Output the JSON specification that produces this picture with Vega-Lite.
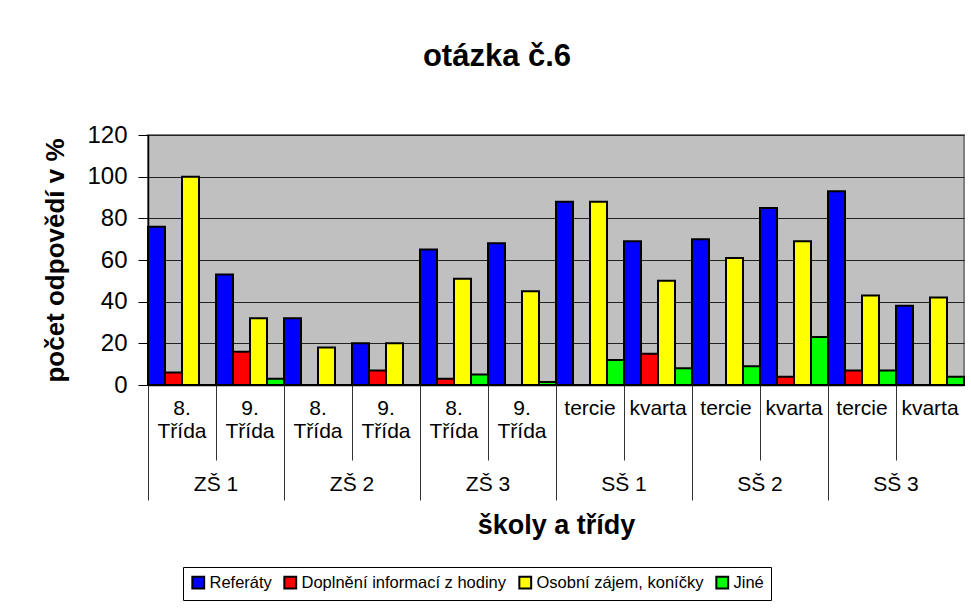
{
  "$schema": "https://vega.github.io/schema/vega-lite/v6.json",
  "width": 816,
  "height": 250,
  "autosize": {"type": "none"},
  "padding": {"left": 148, "top": 135, "right": 7, "bottom": 224},
  "background": "white",
  "title": {
    "text": "otázka č.6",
    "anchor": "middle",
    "frame": "group",
    "dx": -59,
    "offset": 50,
    "font": "Liberation Sans",
    "fontSize": 31,
    "fontWeight": "bold",
    "color": "black"
  },
  "config": {
    "font": "Liberation Sans",
    "view": {"fill": "#C0C0C0", "stroke": "#808080", "strokeWidth": 2}
  },
  "data": {
    "values": [
      {"school": "ZŠ 1", "key": "ZŠ 1/8. Třída", "series": "Referáty", "value": 76},
      {"school": "ZŠ 1", "key": "ZŠ 1/8. Třída", "series": "Doplnění informací z hodiny", "value": 6},
      {"school": "ZŠ 1", "key": "ZŠ 1/8. Třída", "series": "Osobní zájem, koníčky", "value": 100},
      {"school": "ZŠ 1", "key": "ZŠ 1/8. Třída", "series": "Jiné", "value": 0},
      {"school": "ZŠ 1", "key": "ZŠ 1/9. Třída", "series": "Referáty", "value": 53},
      {"school": "ZŠ 1", "key": "ZŠ 1/9. Třída", "series": "Doplnění informací z hodiny", "value": 16},
      {"school": "ZŠ 1", "key": "ZŠ 1/9. Třída", "series": "Osobní zájem, koníčky", "value": 32},
      {"school": "ZŠ 1", "key": "ZŠ 1/9. Třída", "series": "Jiné", "value": 3},
      {"school": "ZŠ 2", "key": "ZŠ 2/8. Třída", "series": "Referáty", "value": 32},
      {"school": "ZŠ 2", "key": "ZŠ 2/8. Třída", "series": "Doplnění informací z hodiny", "value": 0},
      {"school": "ZŠ 2", "key": "ZŠ 2/8. Třída", "series": "Osobní zájem, koníčky", "value": 18},
      {"school": "ZŠ 2", "key": "ZŠ 2/8. Třída", "series": "Jiné", "value": 0},
      {"school": "ZŠ 2", "key": "ZŠ 2/9. Třída", "series": "Referáty", "value": 20},
      {"school": "ZŠ 2", "key": "ZŠ 2/9. Třída", "series": "Doplnění informací z hodiny", "value": 7},
      {"school": "ZŠ 2", "key": "ZŠ 2/9. Třída", "series": "Osobní zájem, koníčky", "value": 20},
      {"school": "ZŠ 2", "key": "ZŠ 2/9. Třída", "series": "Jiné", "value": 0},
      {"school": "ZŠ 3", "key": "ZŠ 3/8. Třída", "series": "Referáty", "value": 65},
      {"school": "ZŠ 3", "key": "ZŠ 3/8. Třída", "series": "Doplnění informací z hodiny", "value": 3},
      {"school": "ZŠ 3", "key": "ZŠ 3/8. Třída", "series": "Osobní zájem, koníčky", "value": 51},
      {"school": "ZŠ 3", "key": "ZŠ 3/8. Třída", "series": "Jiné", "value": 5},
      {"school": "ZŠ 3", "key": "ZŠ 3/9. Třída", "series": "Referáty", "value": 68},
      {"school": "ZŠ 3", "key": "ZŠ 3/9. Třída", "series": "Doplnění informací z hodiny", "value": 0},
      {"school": "ZŠ 3", "key": "ZŠ 3/9. Třída", "series": "Osobní zájem, koníčky", "value": 45},
      {"school": "ZŠ 3", "key": "ZŠ 3/9. Třída", "series": "Jiné", "value": 1.5},
      {"school": "SŠ 1", "key": "SŠ 1/tercie", "series": "Referáty", "value": 88},
      {"school": "SŠ 1", "key": "SŠ 1/tercie", "series": "Doplnění informací z hodiny", "value": 0},
      {"school": "SŠ 1", "key": "SŠ 1/tercie", "series": "Osobní zájem, koníčky", "value": 88},
      {"school": "SŠ 1", "key": "SŠ 1/tercie", "series": "Jiné", "value": 12},
      {"school": "SŠ 1", "key": "SŠ 1/kvarta", "series": "Referáty", "value": 69},
      {"school": "SŠ 1", "key": "SŠ 1/kvarta", "series": "Doplnění informací z hodiny", "value": 15},
      {"school": "SŠ 1", "key": "SŠ 1/kvarta", "series": "Osobní zájem, koníčky", "value": 50},
      {"school": "SŠ 1", "key": "SŠ 1/kvarta", "series": "Jiné", "value": 8},
      {"school": "SŠ 2", "key": "SŠ 2/tercie", "series": "Referáty", "value": 70},
      {"school": "SŠ 2", "key": "SŠ 2/tercie", "series": "Doplnění informací z hodiny", "value": 0},
      {"school": "SŠ 2", "key": "SŠ 2/tercie", "series": "Osobní zájem, koníčky", "value": 61},
      {"school": "SŠ 2", "key": "SŠ 2/tercie", "series": "Jiné", "value": 9},
      {"school": "SŠ 2", "key": "SŠ 2/kvarta", "series": "Referáty", "value": 85},
      {"school": "SŠ 2", "key": "SŠ 2/kvarta", "series": "Doplnění informací z hodiny", "value": 4},
      {"school": "SŠ 2", "key": "SŠ 2/kvarta", "series": "Osobní zájem, koníčky", "value": 69},
      {"school": "SŠ 2", "key": "SŠ 2/kvarta", "series": "Jiné", "value": 23},
      {"school": "SŠ 3", "key": "SŠ 3/tercie", "series": "Referáty", "value": 93},
      {"school": "SŠ 3", "key": "SŠ 3/tercie", "series": "Doplnění informací z hodiny", "value": 7},
      {"school": "SŠ 3", "key": "SŠ 3/tercie", "series": "Osobní zájem, koníčky", "value": 43},
      {"school": "SŠ 3", "key": "SŠ 3/tercie", "series": "Jiné", "value": 7},
      {"school": "SŠ 3", "key": "SŠ 3/kvarta", "series": "Referáty", "value": 38},
      {"school": "SŠ 3", "key": "SŠ 3/kvarta", "series": "Doplnění informací z hodiny", "value": 0},
      {"school": "SŠ 3", "key": "SŠ 3/kvarta", "series": "Osobní zájem, koníčky", "value": 42},
      {"school": "SŠ 3", "key": "SŠ 3/kvarta", "series": "Jiné", "value": 4}
    ]
  },
  "layer": [
    {
      "mark": {"type": "bar", "stroke": "black", "strokeWidth": 2},
      "encoding": {
        "x": {
          "field": "key",
          "type": "nominal",
          "sort": null,
          "scale": {"paddingInner": 0, "paddingOuter": 0},
          "axis": {
            "title": null,
            "orient": "bottom",
            "labelAngle": 0,
            "bandPosition": 0,
            "tickSize": 75,
            "tickColor": "#333333",
            "tickWidth": 1,
            "domainColor": "black",
            "domainWidth": 1.5,
            "labelPadding": -63,
            "labelExpr": "split(split(datum.value, '/')[1], ' ')",
            "labelFontSize": 21,
            "labelLineHeight": 23,
            "labelColor": "black",
            "labelBaseline": "top",
            "labelAlign": "center"
          }
        },
        "xOffset": {
          "field": "series",
          "type": "nominal",
          "sort": ["Referáty", "Doplnění informací z hodiny", "Osobní zájem, koníčky", "Jiné"],
          "scale": {"paddingInner": 0, "paddingOuter": 0}
        },
        "y": {
          "field": "value",
          "type": "quantitative",
          "scale": {"domain": [0, 120], "nice": false},
          "axis": {
            "title": "počet odpovědí v %",
            "titleFontSize": 26,
            "titleFontWeight": "bold",
            "titleColor": "black",
            "titlePadding": 18,
            "values": [0, 20, 40, 60, 80, 100, 120],
            "labelFontSize": 24,
            "labelColor": "black",
            "labelPadding": 11,
            "tickSize": 10,
            "tickColor": "black",
            "domainColor": "black",
            "domainWidth": 1.5,
            "gridColor": "#222222",
            "gridWidth": 1
          }
        },
        "color": {
          "field": "series",
          "type": "nominal",
          "scale": {
            "domain": ["Referáty", "Doplnění informací z hodiny", "Osobní zájem, koníčky", "Jiné"],
            "range": ["#0000FF", "#FF0000", "#FFFF00", "#00FF00"]
          },
          "legend": {
            "title": null,
            "orient": "none",
            "direction": "horizontal",
            "legendX": 35,
            "legendY": 432,
            "strokeColor": "black",
            "fillColor": "white",
            "padding": 7,
            "columnPadding": 8,
            "labelFontSize": 16.5,
            "labelLimit": 0,
            "labelColor": "black",
            "labelOffset": 3,
            "symbolType": "square",
            "symbolSize": 140,
            "symbolStrokeColor": "black",
            "symbolStrokeWidth": 2,
            "symbolOpacity": 1
          }
        }
      }
    },
    {
      "mark": {"type": "rule", "opacity": 0},
      "encoding": {
        "x": {
          "field": "school",
          "type": "nominal",
          "sort": null,
          "scale": {"paddingInner": 0, "paddingOuter": 0},
          "axis": {
            "title": "školy a třídy",
            "titleFontSize": 27,
            "titleFontWeight": "bold",
            "titleColor": "black",
            "titlePadding": 12,
            "orient": "bottom",
            "labelAngle": 0,
            "bandPosition": 0,
            "domain": false,
            "tickSize": 115,
            "tickColor": "#333333",
            "tickWidth": 1,
            "labelPadding": -27,
            "labelFontSize": 21,
            "labelColor": "black",
            "labelBaseline": "top"
          }
        }
      }
    }
  ],
  "resolve": {"scale": {"x": "independent"}, "axis": {"x": "independent"}}
}
